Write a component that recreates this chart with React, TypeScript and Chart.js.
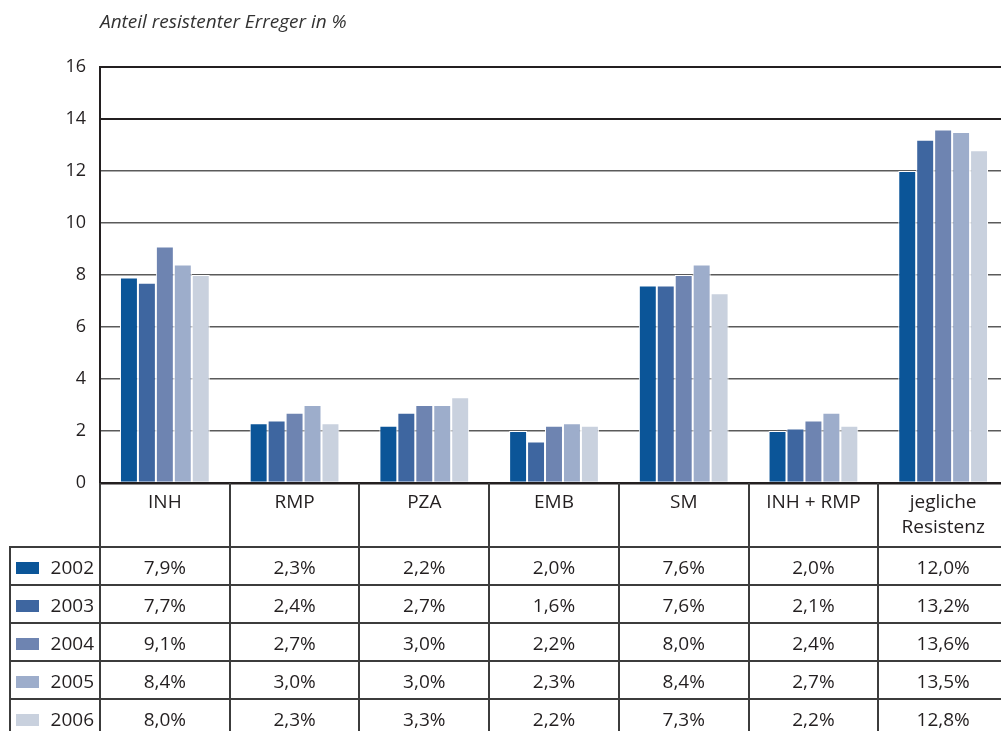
import React, { useEffect, useRef } from "react";
import { Chart, registerables } from "chart.js";

Chart.register(...registerables);

const title = "Anteil resistenter Erreger in %";
const categories: (string | string[])[] = ["INH", "RMP", "PZA", "EMB", "SM", "INH + RMP", ["jegliche", "Resistenz"]];
const years = ["2002", "2003", "2004", "2005", "2006"];
const values2002 = [7.9, 2.3, 2.2, 2.0, 7.6, 2.0, 12.0];
const values2003 = [7.7, 2.4, 2.7, 1.6, 7.6, 2.1, 13.2];
const values2004 = [9.1, 2.7, 3.0, 2.2, 8.0, 2.4, 13.6];
const values2005 = [8.4, 3.0, 3.0, 2.3, 8.4, 2.7, 13.5];
const values2006 = [8.0, 2.3, 3.3, 2.2, 7.3, 2.2, 12.8];
const seriesValues = [values2002, values2003, values2004, values2005, values2006];
const colors = ["#0b5598", "#3e66a0", "#6e84b1", "#9dadcb", "#c9d1de"];
const yMin = 0;
const yMax = 16;
const yStep = 2;

const FONT = "'Open Sans', 'DejaVu Sans', sans-serif";
const TEXT = "#231f20";
const LINE = "#3c3c3c";

const fmt = (v: number) => v.toFixed(1).replace(".", ",") + "%";

const tablePlugin = {
  id: "tablePlugin",
  afterDraw(chart: any) {
    const ctx = chart.ctx as CanvasRenderingContext2D;
    const x = chart.scales.x;
    const area = chart.chartArea;
    const n = categories.length;
    const colW = (x.right - x.left) / n;
    const top = area.bottom;
    const headerH = 64;
    const rowH = 38;
    const tableTop = top + headerH;
    const leftEdge = 10;
    const bottom = chart.height;

    ctx.save();
    // title
    ctx.fillStyle = "#333";
    ctx.font = `italic 19px ${FONT}`;
    ctx.textAlign = "left";
    ctx.textBaseline = "alphabetic";
    ctx.fillText(title, area.left, 28);

    // lines
    ctx.strokeStyle = LINE;
    ctx.lineWidth = 2;
    ctx.beginPath();
    for (let i = 0; i <= n; i++) {
      const px = Math.round(x.left + i * colW);
      ctx.moveTo(px, top);
      ctx.lineTo(px, bottom);
    }
    ctx.moveTo(leftEdge, tableTop);
    ctx.lineTo(leftEdge, bottom);
    for (let r = 0; r < years.length; r++) {
      const py = Math.round(tableTop + r * rowH);
      ctx.moveTo(leftEdge - 1, py);
      ctx.lineTo(x.right, py);
    }
    ctx.stroke();

    // header labels
    ctx.fillStyle = TEXT;
    ctx.font = `19px ${FONT}`;
    ctx.textAlign = "center";
    ctx.textBaseline = "middle";
    categories.forEach((c, i) => {
      const cx = x.getPixelForValue(i);
      const lines = Array.isArray(c) ? c : [c];
      lines.forEach((l, j) => {
        ctx.fillText(l, cx, top + 20 + j * 25);
      });
    });

    // rows
    years.forEach((y, r) => {
      const cy = tableTop + r * rowH + rowH / 2 + 1;
      ctx.fillStyle = colors[r];
      ctx.fillRect(16, Math.round(cy - 5), 23, 12);
      ctx.fillStyle = TEXT;
      ctx.textAlign = "right";
      ctx.fillText(y, 94, cy + 2);
      ctx.textAlign = "center";
      seriesValues[r].forEach((v, i) => {
        ctx.fillText(fmt(v), x.getPixelForValue(i), cy + 2);
      });
    });
    ctx.restore();
  },
};

export default function App() {
  const ref = useRef<HTMLCanvasElement>(null);
  useEffect(() => {
    if (!ref.current) return;
    const chart = new Chart(ref.current, {
      type: "bar",
      data: {
        labels: categories.map((c) => (Array.isArray(c) ? c.join(" ") : c)),
        datasets: years.map((y, i) => ({
          label: y,
          data: seriesValues[i],
          backgroundColor: colors[i],
          borderColor: "#ffffff",
          borderWidth: 1,
          barPercentage: 1,
          categoryPercentage: 0.692,
        })),
      },
      options: {
        responsive: false,
        animation: false,
        devicePixelRatio: 1,
        layout: { padding: { top: 67, bottom: 248, left: 0, right: 2 } },
        plugins: { legend: { display: false }, tooltip: { enabled: false }, title: { display: false } },
        scales: {
          x: { display: false },
          y: {
            min: yMin,
            max: yMax,
            afterFit: (s: any) => {
              s.width = 100;
            },
            ticks: {
              stepSize: yStep,
              padding: 14,
              color: TEXT,
              font: { family: FONT, size: 18 },
            },
            grid: {
              drawTicks: false,
              color: (c: any) => (c.tick && (c.tick.value >= 14 || c.tick.value === 0) ? "#231f20" : "#5a5a5a"),
              lineWidth: (c: any) => (c.tick && c.tick.value === 0 ? 2.5 : c.tick && c.tick.value >= 14 ? 2 : 1.5),
            },
            border: { display: true, color: "#231f20", width: 2 },
          },
        },
      },
      plugins: [tablePlugin],
    });
    return () => chart.destroy();
  }, []);
  return (
    <div style={{ position: "absolute", left: 0, top: 0, width: 1001, height: 731, overflow: "hidden", background: "#fff" }}>
      <canvas ref={ref} width={1010} height={731} style={{ display: "block" }} />
    </div>
  );
}
